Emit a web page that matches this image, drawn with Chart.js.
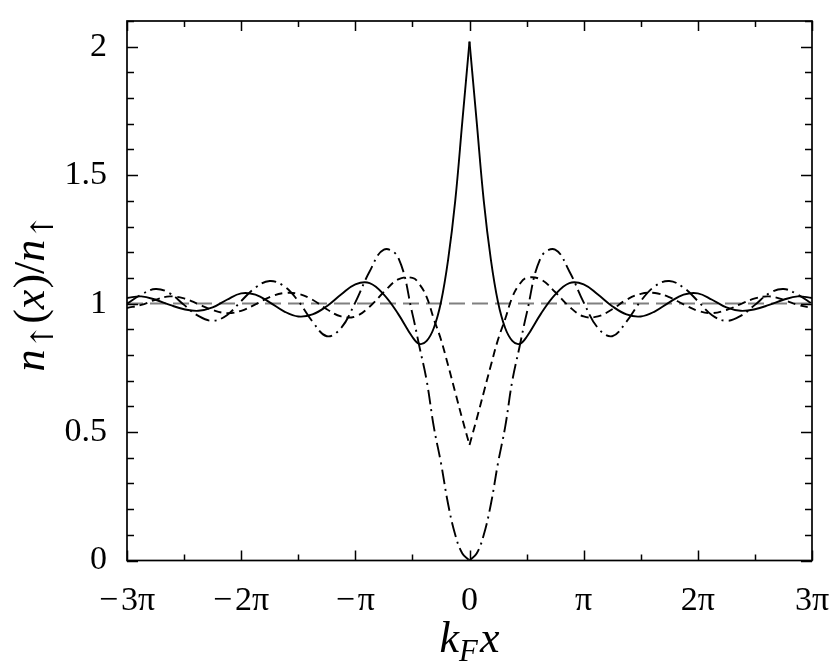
<!DOCTYPE html>
<html lang="en">
<head>
<meta charset="UTF-8">
<title>n(x)/n</title>
<script src="https://cdn.jsdelivr.net/npm/chart.js"></script>
<style>
  body { margin: 0; background: #fff; }
  #wrap { width: 830px; height: 669px; }
</style>
</head>
<body>
<div id="wrap"><canvas id="grafico" width="830" height="669"></canvas></div>
<script>
    // k_F x in units of pi
    const kfx = [-3, -2.875, -2.75, -2.625, -2.5, -2.375, -2.25, -2.125, -2, -1.875, -1.75, -1.625, -1.5, -1.375,
        -1.25, -1.125, -1, -0.875, -0.75, -0.625, -0.5, -0.4375, -0.375, -0.3125, -0.25, -0.1875, -0.125, -0.0625, 0,
        0.0625, 0.125, 0.1875, 0.25, 0.3125, 0.375, 0.4375, 0.5, 0.625, 0.75, 0.875, 1, 1.125, 1.25, 1.375, 1.5,
        1.625, 1.75, 1.875, 2, 2.125, 2.25, 2.375, 2.5, 2.625, 2.75, 2.875, 3];

    const solid = [1.022, 1.028, 1.015, 0.995, 0.978, 0.972, 0.985, 1.015, 1.040, 1.035, 1.005, 0.970, 0.950, 0.958,
        0.990, 1.035, 1.075, 1.080, 1.035, 0.960, 0.870, 0.843, 0.855, 0.905, 1.005, 1.17, 1.40, 1.71, 2.02,
        1.71, 1.40, 1.17, 1.005, 0.905, 0.855, 0.843, 0.870, 0.960, 1.035, 1.080, 1.075, 1.035, 0.990, 0.958, 0.950,
        0.970, 1.005, 1.035, 1.040, 1.015, 0.985, 0.972, 0.978, 0.995, 1.015, 1.028, 1.022];

    const dashed = [0.983, 0.995, 1.015, 1.028, 1.020, 0.998, 0.975, 0.963, 0.972, 0.997, 1.025, 1.041, 1.038, 1.015,
        0.978, 0.950, 0.950, 0.988, 1.045, 1.094, 1.100, 1.075, 1.025, 0.94, 0.86, 0.76, 0.655, 0.55, 0.45,
        0.55, 0.655, 0.76, 0.86, 0.94, 1.025, 1.075, 1.100, 1.094, 1.045, 0.988, 0.950, 0.950, 0.978, 1.015, 1.038,
        1.041, 1.025, 0.997, 0.972, 0.963, 0.975, 0.998, 1.020, 1.028, 1.015, 0.995, 0.983];

    const dashDot = [1.000, 1.035, 1.057, 1.040, 0.995, 0.952, 0.933, 0.955, 1.010, 1.062, 1.088, 1.068, 1.010, 0.930,
        0.873, 0.905, 1.005, 1.125, 1.21, 1.18, 0.960, 0.83, 0.70, 0.52, 0.38, 0.22, 0.10, 0.027, 0,
        0.027, 0.10, 0.22, 0.38, 0.52, 0.70, 0.83, 0.960, 1.18, 1.21, 1.125, 1.005, 0.905, 0.873, 0.930, 1.010,
        1.068, 1.088, 1.062, 1.010, 0.955, 0.933, 0.952, 0.995, 1.040, 1.057, 1.035, 1.000];

    const nivelRef = 1;

    const xTickVals = [-3, -2, -1, 0, 1, 2, 3];
    const xTickText = ['\u2212\u200a3\u03c0', '\u2212\u200a2\u03c0', '\u2212\u200a\u03c0', '0', '\u03c0', '2\u03c0', '3\u03c0'];
    const yTickVals = [0, 0.5, 1, 1.5, 2];
    const yTickText = ['0', '0.5', '1', '1.5', '2'];

    const SERIF = '"Liberation Serif", "DejaVu Serif", serif';
    const SETA = '"DejaVu Serif", "DejaVu Sans", serif';

    // split at x = 0 so the cusp stays sharp
    const meio = kfx.indexOf(0);
    function pontos(ys, de, ate) {
        const out = [];
        for (let i = de; i <= ate; i++) out.push({ x: kfx[i], y: ys[i] });
        return out;
    }
    function serie(ys, dash) {
        const base = { borderColor: '#000', borderWidth: 1.9, borderDash: dash, pointRadius: 0, tension: 0.4, fill: false };
        return [
            Object.assign({}, base, { data: pontos(ys, 0, meio) }),
            Object.assign({}, base, { data: pontos(ys, meio, kfx.length - 1) })
        ];
    }

    const datasets = [
        ...serie(solid, []),
        ...serie(dashed, [8, 5]),
        ...serie(dashDot, [15, 5, 2, 5]),
        {
            data: [{ x: kfx[0], y: nivelRef }, { x: kfx[kfx.length - 1], y: nivelRef }],
            borderColor: '#808080', borderWidth: 2, borderDash: [16, 7], pointRadius: 0
        }
    ];

    function perto(v, lista) {
        return lista.findIndex(t => Math.abs(t - v) < 1e-6);
    }

    function fonte(r, size) {
        return (r.it ? 'italic ' : '') + (r.sub ? size * 0.7 : size) + 'px ' + (r.seta ? SETA : SERIF);
    }

    function desenhaRuns(ctx, runs, size, cx, cy) {
        let total = 0;
        runs.forEach(r => {
            ctx.font = fonte(r, size);
            r.w = ctx.measureText(r.t).width + (r.gap || 0);
            total += r.w;
        });
        let px = cx - total / 2;
        runs.forEach(r => {
            ctx.font = fonte(r, size);
            ctx.fillText(r.t, px, cy + (r.sub ? size * 0.2 : 0));
            px += r.w;
        });
    }

    const molduraTicks = {
        id: 'molduraTicks',
        afterDatasetsDraw(chart) {
            const { ctx, chartArea: a, scales } = chart;
            const x = scales.x, y = scales.y;
            ctx.save();
            ctx.strokeStyle = '#000';
            ctx.lineWidth = 1.5;
            ctx.beginPath();
            x.ticks.forEach(t => {
                const px = Math.round(x.getPixelForValue(t.value)) + 0.5;
                const len = perto(t.value, xTickVals) >= 0 ? 10 : 6;
                ctx.moveTo(px, a.bottom); ctx.lineTo(px, a.bottom - len);
                ctx.moveTo(px, a.top); ctx.lineTo(px, a.top + len);
            });
            y.ticks.forEach(t => {
                const py = Math.round(y.getPixelForValue(t.value)) + 0.5;
                const len = perto(t.value, yTickVals) >= 0 ? 11 : 7;
                ctx.moveTo(a.left, py); ctx.lineTo(a.left + len, py);
                ctx.moveTo(a.right, py); ctx.lineTo(a.right - len, py);
            });
            ctx.stroke();
            ctx.lineWidth = 1.7;
            ctx.strokeRect(a.left, a.top, a.right - a.left, a.bottom - a.top);

            // axis titles
            ctx.fillStyle = '#000';
            ctx.textBaseline = 'alphabetic';
            ctx.textAlign = 'left';
            desenhaRuns(ctx, [
                { t: 'k', it: true }, { t: 'F', it: true, sub: true, gap: 2 }, { t: 'x', it: true }
            ], 44, (a.left + a.right) / 2, 652);

            ctx.translate(44, (a.top + a.bottom) / 2 + 2);
            ctx.rotate(-Math.PI / 2);
            desenhaRuns(ctx, [
                { t: 'n', it: true }, { t: '\u2191', sub: true, seta: true }, { t: '(' }, { t: 'x', it: true, gap: 1 }, { t: ')' },
                { t: '/' }, { t: 'n', it: true }, { t: '\u2191', sub: true, seta: true }
            ], 44, 0, 0);
            ctx.restore();
        }
    };

    new Chart(document.getElementById('grafico'), {
        type: 'line',
        data: { datasets: datasets },
        options: {
            responsive: false,
            animation: false,
            devicePixelRatio: 1,
            layout: { padding: { top: 21, right: 18, left: 0, bottom: 0 } },
            plugins: { legend: { display: false }, tooltip: { enabled: false } },
            scales: {
                x: {
                    type: 'linear', min: -3, max: 3,
                    grid: { display: false, drawTicks: false },
                    border: { display: false },
                    afterFit(s) { s.height = 108.5; s.paddingLeft = 0; s.paddingRight = 0; },
                    ticks: {
                        stepSize: 0.5, autoSkip: false, maxRotation: 0, padding: 20,
                        color: '#000', font: { family: SERIF, size: 34 },
                        callback(v) { const i = perto(v, xTickVals); return i >= 0 ? xTickText[i] : ''; }
                    }
                },
                y: {
                    type: 'linear', min: 0, max: 2.1,
                    grid: { display: false, drawTicks: false },
                    border: { display: false },
                    afterFit(s) { s.width = 127; s.paddingTop = 0; s.paddingBottom = 0; },
                    ticks: {
                        stepSize: 0.1, autoSkip: false, padding: 20,
                        color: '#000', font: { family: SERIF, size: 34 },
                        callback(v) { const i = perto(v, yTickVals); return i >= 0 ? yTickText[i] : ''; }
                    }
                }
            }
        },
        plugins: [molduraTicks]
    });
</script>
</body>
</html>
